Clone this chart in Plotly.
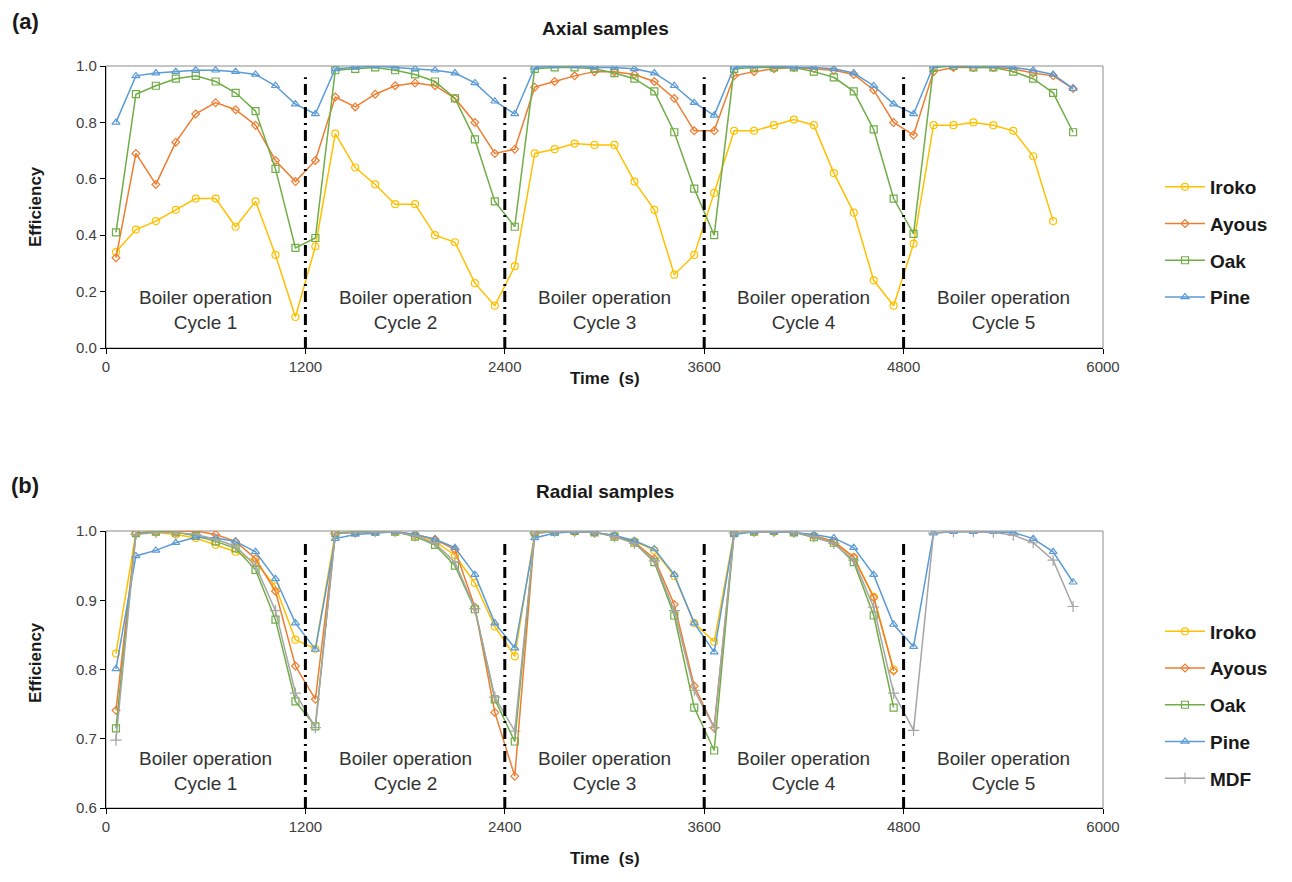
import plotly.graph_objects as go

# ---- sample times (s) ----
time_full = [60, 180, 300, 420, 540, 660, 780, 900, 1020, 1140,
             1260, 1380, 1500, 1620, 1740, 1860, 1980, 2100, 2220, 2340,
             2460, 2580, 2700, 2820, 2940, 3060, 3180, 3300, 3420, 3540,
             3660, 3780, 3900, 4020, 4140, 4260, 4380, 4500, 4620, 4740,
             4860, 4980, 5100, 5220, 5340, 5460, 5580, 5700, 5820]

# ---- (a) axial samples ----
iroko_axial = [0.34, 0.42, 0.45, 0.49, 0.53, 0.53, 0.43, 0.52, 0.33, 0.11,
               0.36, 0.76, 0.64, 0.58, 0.51, 0.51, 0.40, 0.375, 0.23, 0.15,
               0.29, 0.69, 0.705, 0.725, 0.72, 0.72, 0.59, 0.49, 0.26, 0.33,
               0.55, 0.77, 0.77, 0.79, 0.81, 0.79, 0.62, 0.48, 0.24, 0.15,
               0.37, 0.79, 0.79, 0.80, 0.79, 0.77, 0.68, 0.45]
ayous_axial = [0.32, 0.69, 0.58, 0.73, 0.83, 0.87, 0.845, 0.79, 0.665, 0.59,
               0.665, 0.89, 0.855, 0.90, 0.93, 0.94, 0.93, 0.885, 0.80, 0.69,
               0.705, 0.925, 0.945, 0.965, 0.98, 0.98, 0.97, 0.945, 0.885, 0.77,
               0.77, 0.965, 0.98, 0.99, 0.995, 0.99, 0.985, 0.97, 0.915, 0.80,
               0.755, 0.98, 0.995, 0.995, 0.995, 0.99, 0.975, 0.965, 0.92]
oak_axial = [0.41, 0.90, 0.93, 0.955, 0.965, 0.945, 0.905, 0.84, 0.635, 0.355,
             0.39, 0.985, 0.99, 0.995, 0.985, 0.97, 0.945, 0.885, 0.74, 0.52,
             0.43, 0.99, 0.995, 0.995, 0.99, 0.975, 0.955, 0.91, 0.765, 0.565,
             0.40, 0.99, 0.995, 0.995, 0.995, 0.98, 0.96, 0.91, 0.775, 0.53,
             0.405, 0.995, 1.0, 0.995, 0.995, 0.98, 0.955, 0.905, 0.765]
pine_axial = [0.80, 0.965, 0.975, 0.98, 0.985, 0.985, 0.98, 0.97, 0.93, 0.865,
              0.83, 0.99, 0.995, 1.0, 0.995, 0.99, 0.985, 0.975, 0.94, 0.875,
              0.83, 0.995, 1.0, 1.0, 0.995, 0.995, 0.99, 0.975, 0.93, 0.87,
              0.825, 0.995, 1.0, 1.0, 0.995, 0.995, 0.99, 0.975, 0.93, 0.865,
              0.83, 1.0, 1.0, 1.0, 1.0, 0.995, 0.985, 0.97, 0.92]

# ---- (b) radial samples ----
iroko_radial = [0.823, 0.997, 0.998, 0.995, 0.99, 0.98, 0.97, 0.955, 0.92, 0.843,
                0.83, 0.997, 0.998, 0.999, 0.999, 0.993, 0.985, 0.965, 0.925, 0.862,
                0.819, 0.997, 0.999, 0.999, 0.998, 0.993, 0.985, 0.972, 0.935, 0.867,
                0.84, 0.997, 0.999, 0.999, 0.998, 0.993, 0.985, 0.962, 0.905, 0.80]
ayous_radial = [0.741, 0.997, 0.999, 0.999, 1.0, 0.995, 0.985, 0.96, 0.913, 0.805,
                0.757, 0.997, 0.998, 0.999, 0.999, 0.995, 0.988, 0.973, 0.89, 0.738,
                0.646, 0.997, 0.999, 0.999, 0.998, 0.993, 0.984, 0.96, 0.894, 0.776,
                0.716, 0.997, 0.999, 0.999, 0.998, 0.993, 0.985, 0.962, 0.904, 0.798]
oak_radial = [0.715, 0.997, 0.999, 0.998, 0.993, 0.985, 0.975, 0.944, 0.872, 0.754,
              0.718, 0.997, 0.999, 0.999, 0.999, 0.992, 0.98, 0.95, 0.887, 0.757,
              0.696, 0.998, 0.999, 1.0, 0.998, 0.992, 0.983, 0.955, 0.878, 0.745,
              0.683, 0.997, 0.999, 1.0, 0.998, 0.991, 0.983, 0.955, 0.878, 0.745]
pine_radial = [0.801, 0.964, 0.972, 0.983, 0.991, 0.99, 0.985, 0.97, 0.931, 0.867,
               0.829, 0.989, 0.995, 0.997, 0.999, 0.995, 0.988, 0.976, 0.937, 0.867,
               0.831, 0.99, 0.997, 0.999, 0.998, 0.994, 0.986, 0.974, 0.937, 0.867,
               0.825, 0.995, 0.999, 0.999, 0.998, 0.995, 0.99, 0.976, 0.937, 0.865,
               0.833, 0.997, 0.999, 0.999, 0.999, 0.998, 0.989, 0.97, 0.926]
mdf_radial = [0.698, 0.995, 0.998, 0.998, 0.995, 0.988, 0.978, 0.95, 0.885, 0.766,
              0.716, 0.996, 0.998, 0.999, 0.999, 0.993, 0.982, 0.955, 0.888, 0.76,
              0.711, 0.997, 0.999, 0.999, 0.998, 0.992, 0.982, 0.957, 0.885, 0.77,
              0.716, 0.997, 0.999, 0.999, 0.998, 0.992, 0.982, 0.958, 0.89, 0.766,
              0.712, 0.997, 0.999, 0.999, 0.998, 0.994, 0.983, 0.958, 0.891]

cycle_bounds = [1200, 2400, 3600, 4800]
cycle_centers = [600, 1800, 3000, 4200, 5400]
x_ticks = [0, 1200, 2400, 3600, 4800, 6000]

COLORS = {"Iroko": "#FFC000", "Ayous": "#ED7D31", "Oak": "#70AD47",
          "Pine": "#5B9BD5", "MDF": "#A5A5A5"}
SYMBOLS = {"Iroko": ("circle-open", 7), "Ayous": ("diamond-open", 6),
           "Oak": ("square-open", 7), "Pine": ("triangle-up-open", 7),
           "MDF": ("cross-thin-open", 8)}

FONT = "Liberation Sans, Arial, sans-serif"
W, H = 1292, 882
X0, X1 = 106 / W, 1103 / W
TOP_DOM = [(H - 348) / H, (H - 66) / H]
BOT_DOM = [(H - 808) / H, (H - 531) / H]

fig = go.Figure()


def bold(s):
    return f"<b>{s}</b>"


def add_series(name, xs, ys, xaxis, yaxis, legend):
    sym, size = SYMBOLS[name]
    fig.add_trace(go.Scatter(
        x=xs[:len(ys)], y=ys, name=bold(name), mode="lines+markers",
        xaxis=xaxis, yaxis=yaxis, legend=legend, legendgroup=legend + name,
        line=dict(color=COLORS[name], width=1.5),
        marker=dict(symbol=sym, size=size, color=COLORS[name],
                    line=dict(color=COLORS[name], width=1.2)),
    ))


for nm, ys in [("Iroko", iroko_axial), ("Ayous", ayous_axial),
               ("Oak", oak_axial), ("Pine", pine_axial)]:
    add_series(nm, time_full, ys, "x", "y", "legend")

for nm, ys in [("Iroko", iroko_radial), ("Ayous", ayous_radial),
               ("Oak", oak_radial), ("Pine", pine_radial), ("MDF", mdf_radial)]:
    add_series(nm, time_full, ys, "x2", "y2", "legend2")

axis_common = dict(showgrid=False, zeroline=False, showline=True,
                   linecolor="black", linewidth=1.2, ticks="outside",
                   ticklen=5, tickcolor="black", automargin=False,
                   tickfont=dict(family=FONT, size=15, color="#404040"))

shapes = []
annotations = []
for xa, ya in [("x", "y"), ("x2", "y2")]:
    # grey frame on top / right
    shapes.append(dict(type="rect", xref=f"{xa} domain", yref=f"{ya} domain",
                       x0=0, x1=1, y0=0, y1=1, layer="below",
                       line=dict(color="#8c8c8c", width=1)))
    # boundaries between boiler cycles
    for b in cycle_bounds:
        shapes.append(dict(type="line", xref=xa, yref=f"{ya} domain",
                           x0=b, x1=b, y0=0, y1=0.96, layer="above",
                           line=dict(color="black", width=3,
                                     dash="11px,5px,2px,5px")))

# cycle labels
for i, c in enumerate(cycle_centers):
    for xa, ya, yv in [("x", "y", 0.135), ("x2", "y2", 0.654)]:
        annotations.append(dict(x=c, y=yv, xref=xa, yref=ya,
                                text=f"Boiler operation<br>Cycle {i + 1}",
                                showarrow=False,
                                font=dict(family=FONT, size=19, color="#333333")))

for txt, xp, yp, sz in [("(a)", 25, 22, 22), ("(b)", 25, 486, 22),
                        ("Axial samples", 605, 28, 19),
                        ("Radial samples", 605, 492, 19),
                        ("Time\u00a0 (s)", 605, 378, 17),
                        ("Time\u00a0 (s)", 605, 858, 17)]:
    annotations.append(dict(x=xp / W, y=1 - yp / H, xref="paper", yref="paper",
                            text=bold(txt), showarrow=False,
                            xanchor="center", yanchor="middle",
                            font=dict(family=FONT, size=sz, color="#1a1a1a")))
for yp in (207, 663):
    annotations.append(dict(x=35 / W, y=1 - yp / H, xref="paper", yref="paper",
                            text=bold("Efficiency"), showarrow=False,
                            textangle=-90, xanchor="center", yanchor="middle",
                            font=dict(family=FONT, size=17, color="#1a1a1a")))

legend_common = dict(font=dict(family=FONT, size=19, color="#1a1a1a"),
                     bgcolor="rgba(0,0,0,0)", borderwidth=0,
                     tracegroupgap=9, itemwidth=40,
                     xanchor="left", yanchor="middle")

fig.update_layout(
    width=W, height=H,
    margin=dict(l=0, r=0, t=0, b=0, autoexpand=False),
    paper_bgcolor="white", plot_bgcolor="white",
    xaxis=dict(domain=[X0, X1], range=[0, 6000], tickvals=x_ticks,
               anchor="y", **axis_common),
    yaxis=dict(domain=TOP_DOM, range=[0, 1.0], dtick=0.2, tickformat=".1f",
               anchor="x", **axis_common),
    xaxis2=dict(domain=[X0, X1], range=[0, 6000], tickvals=x_ticks,
                anchor="y2", **axis_common),
    yaxis2=dict(domain=BOT_DOM, range=[0.6, 1.0], dtick=0.1, tickformat=".1f",
                anchor="x2", **axis_common),
    legend=dict(x=1160 / W, y=1 - 242 / H, **legend_common),
    legend2=dict(x=1160 / W, y=1 - 705 / H, **legend_common),
    shapes=shapes,
    annotations=annotations,
    showlegend=True,
)

fig.write_html("out.html")
